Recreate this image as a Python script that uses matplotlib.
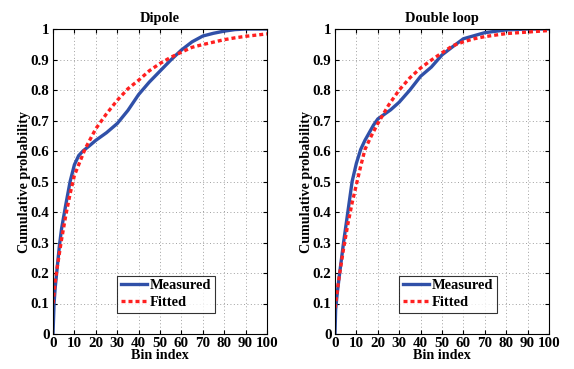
import matplotlib
matplotlib.use('Agg')
import matplotlib.pyplot as plt

plt.rcParams['font.family'] = 'Liberation Serif'
plt.rcParams['font.weight'] = 'bold'

# Dipole
dip_meas_x = [0, 0.5, 1, 2, 3, 4, 6, 8, 10, 12, 14, 17, 20, 25, 30, 35, 40, 45, 50, 55, 60, 65, 70, 75, 80, 85, 90, 100]
dip_meas_y = [0, 0.10, 0.15, 0.22, 0.29, 0.345, 0.425, 0.50, 0.555, 0.585, 0.60, 0.617, 0.635, 0.66, 0.69, 0.733, 0.785, 0.826, 0.862, 0.898, 0.931, 0.958, 0.977, 0.986, 0.993, 0.998, 1.0, 1.0]
dip_fit_x = [0, 1, 2, 4, 6, 8, 10, 15, 20, 25, 30, 35, 40, 45, 50, 55, 60, 65, 70, 75, 80, 85, 90, 95, 100]
dip_fit_y = [0.10, 0.17, 0.22, 0.31, 0.39, 0.46, 0.52, 0.607, 0.673, 0.722, 0.766, 0.804, 0.832, 0.863, 0.887, 0.907, 0.924, 0.94, 0.949, 0.957, 0.965, 0.971, 0.976, 0.98, 0.984]

# Double loop
dl_meas_x = [0, 0.3, 1, 2, 4, 6, 8, 10, 12, 14, 16, 18, 20, 23, 26, 30, 35, 40, 45, 50, 55, 60, 65, 70, 80, 90, 100]
dl_meas_y = [0, 0.08, 0.13, 0.19, 0.30, 0.40, 0.50, 0.56, 0.605, 0.635, 0.66, 0.685, 0.705, 0.72, 0.735, 0.76, 0.80, 0.845, 0.875, 0.915, 0.942, 0.968, 0.978, 0.988, 0.997, 1.0, 1.0]
dl_fit_x = [0, 2, 4, 6, 8, 10, 12, 14, 17, 20, 25, 30, 35, 40, 45, 50, 55, 60, 65, 70, 75, 80, 90, 100]
dl_fit_y = [0.085, 0.19, 0.28, 0.36, 0.43, 0.49, 0.55, 0.605, 0.65, 0.69, 0.75, 0.80, 0.84, 0.872, 0.898, 0.922, 0.945, 0.958, 0.968, 0.975, 0.98, 0.985, 0.99, 0.995]

panels = [
    ('Dipole', dip_meas_x, dip_meas_y, dip_fit_x, dip_fit_y),
    ('Double loop', dl_meas_x, dl_meas_y, dl_fit_x, dl_fit_y),
]

fig = plt.figure(figsize=(5.74, 3.69), dpi=100)
lefts = [53 / 574, 335 / 574]
for (title, mx, my, fx, fy), left in zip(panels, lefts):
    ax = fig.add_axes([left, 35 / 369, 214 / 574, 305 / 369])
    ax.plot(mx, my, color='#3050a8', lw=2.4, label='Measured')
    ax.plot(fx, fy, color='#ff2020', lw=2.4, linestyle=(0, (1.2, 0.9)), label='Fitted')
    ax.set_xlim(0, 100)
    ax.set_ylim(0, 1)
    ax.set_xticks(range(0, 101, 10))
    ax.set_yticks([i / 10 for i in range(11)])
    ax.set_yticklabels(['0', '0.1', '0.2', '0.3', '0.4', '0.5', '0.6', '0.7', '0.8', '0.9', '1'])
    ax.grid(True, linestyle=(0, (1, 2.5)), color='#a0a0a0', lw=0.7)
    ax.tick_params(direction='in', top=True, right=True, labelsize=10.8, length=3, pad=2.5)
    for s in ax.spines.values():
        s.set_linewidth(0.8)
    ax.set_title(title, fontsize=10.4, fontweight='bold', pad=5)
    ax.set_xlabel('Bin index', fontsize=10.2, fontweight='bold', labelpad=-1)
    ax.set_ylabel('Cumulative probability', fontsize=10.2, fontweight='bold', labelpad=0)
    leg = ax.legend(loc='lower left', bbox_to_anchor=(0.30, 0.07), fontsize=10.4,
                    frameon=True, fancybox=False, edgecolor='black', handlelength=1.8,
                    borderpad=0.25, labelspacing=0.25, handletextpad=0.2, borderaxespad=0)
    leg.get_frame().set_linewidth(0.8)

plt.savefig('out.png', dpi=100)
